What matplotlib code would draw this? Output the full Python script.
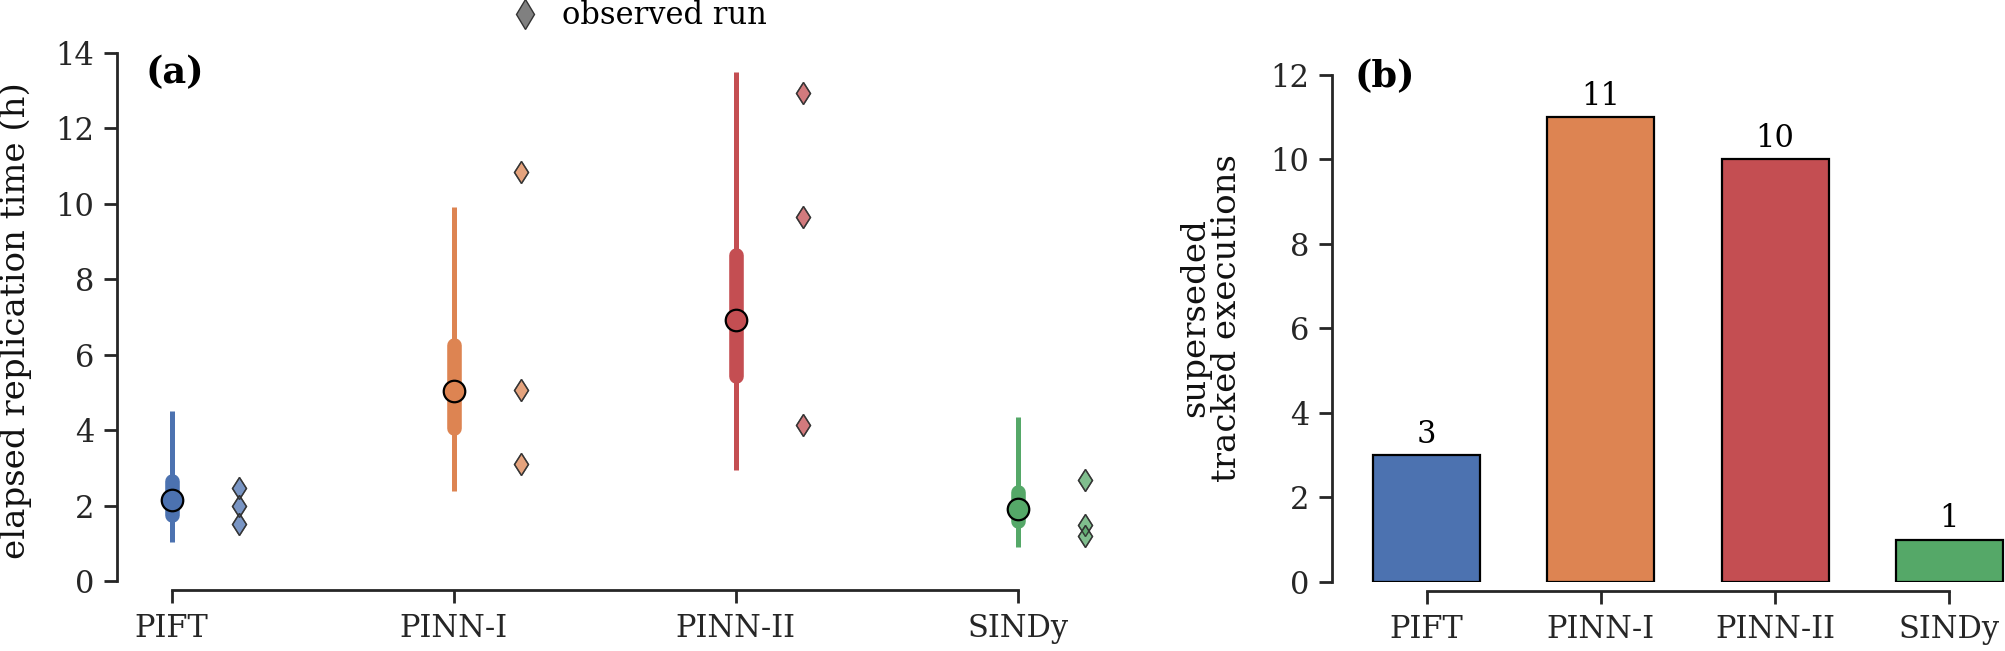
import matplotlib
matplotlib.use("Agg")
import matplotlib.pyplot as plt
from matplotlib.lines import Line2D

plt.rcParams['font.family'] = ['DejaVu Serif']

# ---------------- data ----------------
methods = ['PIFT', 'PINN-I', 'PINN-II', 'SINDy']
colors = ['#4C72B0', '#DD8452', '#C44E52', '#55A868']

center_time = [2.15, 5.04, 6.93, 1.90]
inner_lo = [1.76, 4.06, 5.43, 1.60]
inner_hi = [2.65, 6.25, 8.63, 2.37]
outer_lo = [1.04, 2.39, 2.94, 0.91]
outer_hi = [4.51, 9.91, 13.50, 4.35]

runs_pift = [2.47, 1.99, 1.50]
runs_pinn1 = [10.85, 5.06, 3.10]
runs_pinn2 = [12.95, 9.64, 4.13]
runs_sindy = [2.67, 1.49, 1.18]
observed_runs = [runs_pift, runs_pinn1, runs_pinn2, runs_sindy]

superseded = [3, 11, 10, 1]

# ---------------- style ----------------
DPI = 100
W, H = 2005, 651
TXT = '#262626'
FS = 22
FS_LABEL = 24.5
FS_PANEL = 26.5
OFFSET = 6.5  # points
fig = plt.figure(figsize=(W / DPI, H / DPI), dpi=DPI)

def px_axes(l, r, b, t):
    return [l / W, 1 - b / H, (r - l) / W, (b - t) / H]

def style(ax):
    for s in ['top', 'right']:
        ax.spines[s].set_visible(False)
    for s in ['left', 'bottom']:
        ax.spines[s].set_position(('outward', OFFSET))
        ax.spines[s].set_linewidth(2.0)
        ax.spines[s].set_color(TXT)
    ax.tick_params(axis='both', length=9.5, width=2.0, color=TXT,
                   labelcolor=TXT, labelsize=FS, pad=7)

# ---------------- panel (a) ----------------
axA = fig.add_axes(px_axes(126, 1131, 581, 48))
xs = list(range(len(methods)))
dx = 0.24
for i, x in enumerate(xs):
    c = colors[i]
    axA.plot([x, x], [outer_lo[i], outer_hi[i]], color=c, lw=3.6,
             solid_capstyle='butt', zorder=2)
    axA.plot([x, x], [inner_lo[i], inner_hi[i]], color=c, lw=10.5,
             solid_capstyle='round', zorder=3)
    axA.plot([x], [center_time[i]], marker='o', ms=15.5, mfc=c, mec='black',
             mew=1.6, zorder=4, ls='none')
    axA.plot([x + dx] * len(observed_runs[i]), observed_runs[i], marker='d',
             ls='none', ms=11.5, mfc=c, alpha=0.75, mec='#222222', mew=1.0,
             zorder=3)
    axA.plot([x + dx] * len(observed_runs[i]), observed_runs[i], marker='d',
             ls='none', ms=11.5, mfc='none', mec='#333333', mew=1.0,
             zorder=3, alpha=0.9)

axA.set_xlim(-0.162, 3.402)
axA.set_ylim(0, 14.13)
axA.set_yticks(range(0, 15, 2))
axA.set_xticks(xs)
axA.set_xticklabels(methods)
style(axA)
axA.spines['left'].set_bounds(0, 14)
axA.spines['bottom'].set_bounds(0, 3)
axA.set_ylabel('elapsed replication time (h)', fontsize=FS_LABEL, color='#111111')
axA.yaxis.set_label_coords(-0.0935, 0.488)
axA.text(0.019, 0.953, '(a)', transform=axA.transAxes, fontsize=FS_PANEL,
         fontweight='bold', color='black', va='center', ha='left')

handle = Line2D([], [], marker='d', ls='none', ms=15, mfc='#808080',
                mec='#333333', mew=1.0)
fig.legend([handle], ['observed run'], loc='center',
           bbox_to_anchor=(640 / W, 1 - 16 / H), frameon=False,
           fontsize=FS, handlelength=0.8, handletextpad=0.8,
           labelcolor='black')

# ---------------- panel (b) ----------------
axB = fig.add_axes(px_axes(1341, 2035, 582, 53.8))
bars = axB.bar(xs, superseded, width=0.615, color=colors,
               edgecolor='black', linewidth=1.6, zorder=2)
axB.bar_label(bars, labels=[str(v) for v in superseded], padding=4,
              fontsize=FS, color='black')
axB.set_xlim(-0.491, 3.491)
axB.set_ylim(0, 12.5)
axB.set_yticks(range(0, 13, 2))
axB.set_xticks(xs)
axB.set_xticklabels(methods)
style(axB)
axB.spines['left'].set_bounds(0, 12)
axB.spines['bottom'].set_bounds(0, 3)
axB.set_ylabel('superseded\ntracked executions', fontsize=FS_LABEL,
               color='#111111', linespacing=1.0)
axB.yaxis.set_label_coords(-0.141, 0.5)
axB.text(0.020, 0.956, '(b)', transform=axB.transAxes, fontsize=FS_PANEL,
         fontweight='bold', color='black', va='center', ha='left')

fig.savefig('out.png', dpi=DPI)
